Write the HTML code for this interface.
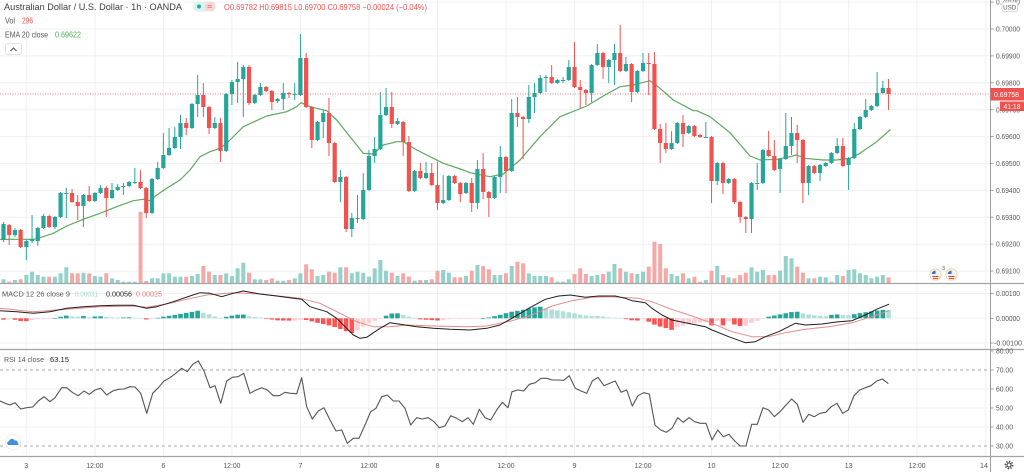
<!DOCTYPE html>
<html><head><meta charset="utf-8">
<style>
html,body{margin:0;padding:0;background:#fff;width:1024px;height:472px;overflow:hidden;}
svg{display:block;}
text{font-family:"Liberation Sans",Arial,sans-serif;}
</style></head>
<body>
<svg id="c" width="1024" height="472" viewBox="0 0 1024 472" xmlns="http://www.w3.org/2000/svg">
<rect width="1024" height="472" fill="#fff"/>
<g id="grid"></g>
<g id="vol"></g>
<g id="ema"></g>
<g id="candles"></g>
<line x1="0" y1="94" x2="990" y2="94" stroke="#ef5350" stroke-width="1" stroke-dasharray="1,1.5" opacity="0.75"/>
<g id="macd"></g>
<g id="rsi">
<line x1="0" y1="370" x2="990" y2="370" stroke="#a3a6ae" stroke-width="1" stroke-dasharray="3,3"/>
<line x1="0" y1="446" x2="990" y2="446" stroke="#b4a3a6" stroke-width="1" stroke-dasharray="3,3"/>
</g>

<!-- separators / axis -->
<line x1="0" y1="283.5" x2="1024" y2="283.5" stroke="#a4a4a4" stroke-width="1.2"/>
<line x1="0" y1="349.5" x2="1024" y2="349.5" stroke="#a4a4a4" stroke-width="1.2"/>
<line x1="0" y1="456.5" x2="1024" y2="456.5" stroke="#a4a4a4" stroke-width="1.2"/>
<line x1="990.5" y1="0" x2="990.5" y2="472" stroke="#9e9e9e" stroke-width="1"/>

<!-- header -->
<text x="4" y="10" font-size="9.5" fill="#3f3f3f" textLength="178" lengthAdjust="spacingAndGlyphs">Australian Dollar / U.S. Dollar · 1h · OANDA</text>
<rect x="193" y="1.5" width="23" height="10" rx="5" fill="#dcf2ef"/>
<circle cx="199" cy="6.5" r="2" fill="#26a69a"/>
<rect x="205" y="2" width="9.5" height="9" rx="2" fill="#fcd6d6"/>
<text x="209.7" y="9.6" font-size="9" fill="#ef5350" text-anchor="middle">≈</text>
<text x="224" y="10" font-size="8" fill="#ef5350" textLength="203" lengthAdjust="spacingAndGlyphs">O0.69782 H0.69815 L0.69700 C0.69758 −0.00024 (−0.04%)</text>
<text x="5" y="23.5" font-size="8" fill="#555" textLength="10" lengthAdjust="spacingAndGlyphs">Vol</text>
<text x="22" y="23.5" font-size="8" fill="#ef5350" textLength="11" lengthAdjust="spacingAndGlyphs">296</text>
<text x="5" y="37.5" font-size="8" fill="#555" textLength="43" lengthAdjust="spacingAndGlyphs">EMA 20 close</text>
<text x="55" y="37.5" font-size="8" fill="#4caf50" textLength="26" lengthAdjust="spacingAndGlyphs">0.69622</text>
<rect x="5.5" y="43.5" width="16" height="11" rx="2" fill="#fff" stroke="#e3e3e3"/>
<polyline points="10.5,51 13.5,48 16.5,51" fill="none" stroke="#555" stroke-width="1.1"/>

<!-- MACD legend -->
<text x="2" y="296.5" font-size="7.6" fill="#555" textLength="68" lengthAdjust="spacingAndGlyphs">MACD 12 26 close 9</text>
<text x="75" y="296.5" font-size="7.6" fill="#a3d7d1" textLength="23" lengthAdjust="spacingAndGlyphs">0.00031</text>
<text x="106" y="296.5" font-size="7.6" fill="#222" textLength="26" lengthAdjust="spacingAndGlyphs">0.00056</text>
<text x="136" y="296.5" font-size="7.6" fill="#e87b79" textLength="26" lengthAdjust="spacingAndGlyphs">0.00025</text>

<!-- RSI legend -->
<text x="4" y="362" font-size="7.6" fill="#555" textLength="40" lengthAdjust="spacingAndGlyphs">RSI 14 close</text>
<text x="50" y="362" font-size="7.6" fill="#222" textLength="19" lengthAdjust="spacingAndGlyphs">63.15</text>

<!-- cloud icon -->
<circle cx="13" cy="442" r="7.5" fill="#fff" stroke="#ececec"/>
<path d="M8.3,445 a2,2 0 0 1 0.8,-3.8 a2.9,2.9 0 0 1 5.5,-0.6 a2.3,2.3 0 0 1 3.1,2.4 a1,1 0 0 1 -0.4,2 z" fill="#3d8fd9"/>

<!-- event icons -->
<g>
<circle cx="935.5" cy="274.5" r="5.6" fill="#fff" stroke="#f3cfa6" stroke-width="1"/>
<circle cx="935.5" cy="274.5" r="4" fill="#eef1f7"/>
<path d="M931.6,274 a4,4 0 0 1 3.9,-3.5 v3.5 z" fill="#3b6fc7"/>
<rect x="932.5" y="276" width="6" height="1" fill="#e53935"/>
<rect x="933" y="278" width="5" height="0.9" fill="#e53935"/>
<text x="942" y="270" font-size="5.5" fill="#555">3</text>
<circle cx="951.5" cy="274.5" r="5.6" fill="#fff" stroke="#f3cfa6" stroke-width="1"/>
<circle cx="951.5" cy="274.5" r="4" fill="#eef1f7"/>
<path d="M947.6,274 a4,4 0 0 1 3.9,-3.5 v3.5 z" fill="#3b6fc7"/>
<rect x="948.5" y="276" width="6" height="1" fill="#e53935"/>
<rect x="949" y="278" width="5" height="0.9" fill="#e53935"/>
</g>

<g id="axis" font-size="7.2" fill="#555"></g>

<!-- price labels -->
<rect x="990.5" y="88" width="33.5" height="12.5" fill="#ef5350"/>
<text x="994" y="97" font-size="7.5" fill="#fff" textLength="25" lengthAdjust="spacingAndGlyphs">0.69758</text>
<rect x="1000" y="101.5" width="24" height="9.5" fill="#ef5350"/>
<text x="1003.5" y="109" font-size="7.2" fill="#fff" textLength="17" lengthAdjust="spacingAndGlyphs">41:18</text>
<rect x="1002" y="2" width="15.5" height="9.5" rx="2" fill="#fff" stroke="#cfcfcf" stroke-width="0.8"/>
<text x="1009.7" y="9.3" font-size="6.2" fill="#555" text-anchor="middle">USD</text>

<!-- gear -->
<circle cx="1009" cy="465" r="2" fill="none" stroke="#444" stroke-width="1.1"/>
<circle cx="1009" cy="465" r="3.6" fill="none" stroke="#444" stroke-width="1.6" stroke-dasharray="1.4,1.4"/>
</svg>
<script>
(function(){
var S="http://www.w3.org/2000/svg";
function E(p,t,a){var e=document.createElementNS(S,t);for(var k in a)e.setAttribute(k,a[k]);p.appendChild(e);return e;}
function g(id){return document.getElementById(id);}
function X(i){return 3.5+5.71*i;}
var D=[[240,224,222,242],[225,235,224,245],[235,230,228,237],[230,247,229,248],[247,241,240,260],[241,239,215,243],[241,228,227,246],[228,216,214,229],[216,227,215,228],[227,217,216,229],
[217,193,192,218],[193,193,188,218],[193,202,189,203],[202,206,195,220],[206,195,194,227],[195,201,186,202],[201,193,192,202],[193,188,185,194],[188,198,186,217],[198,190,183,199],
[190,187,184,191],[187,186,183,195],[186,182,181,187],[182,182,168,184],[182,188,170,189],[188,213,187,218],[213,179,178,214],[179,168,162,180],[168,155,133,169],[155,148,128,156],
[148,137,127,149],[137,123,115,149],[123,128,118,135],[128,104,103,129],[104,95,75,117],[95,107,83,117],[107,128,106,134],[128,123,117,129],[123,151,118,162],[151,94,93,152],
[94,82,80,105],[82,79,62,103],[79,67,65,117],[67,103,65,105],[103,95,94,104],[95,87,83,96],[87,91,86,92],[91,102,90,110],[101,99,98,103],[99,93,83,110],
[93,94,92,98],[94,94,83,100],[95,58,34,96],[58,107,53,108],[107,140,106,148],[140,122,121,141],[122,113,110,138],[113,143,98,156],[143,182,142,183],[182,177,170,202],
[177,229,176,232],[229,218,213,237],[218,218,195,223],[219,190,173,220],[190,156,150,191],[156,149,137,163],[149,115,92,150],[115,107,88,116],[107,124,92,128],[124,121,118,125],
[122,142,121,156],[142,191,136,192],[191,171,170,192],[171,178,163,179],[178,173,162,179],[173,185,163,186],[185,203,162,210],[203,200,175,204],[200,176,175,201],[176,183,175,184],
[183,194,182,202],[193,183,182,194],[183,203,178,212],[203,169,160,209],[169,192,153,199],[192,198,191,217],[198,177,176,199],[177,157,146,193],[157,171,156,193],[171,113,99,172],
[113,117,97,127],[117,119,116,159],[119,97,85,123],[97,93,83,113],[93,78,75,94],[78,77,75,92],[77,83,65,84],[83,80,79,84],[80,80,77,83],[80,67,60,81],
[67,87,42,88],[87,90,80,108],[90,93,89,105],[93,65,64,102],[65,53,44,66],[53,67,52,79],[67,60,59,83],[60,53,44,85],[53,71,25,72],[71,64,57,72],
[64,92,63,102],[92,71,70,93],[71,63,53,72],[63,64,53,95],[64,129,52,130],[129,143,124,163],[143,149,123,153],[149,143,131,150],[143,123,122,144],[123,134,115,147],
[133,126,125,134],[126,136,125,137],[135,137,134,138],[137,137,122,138],[137,181,136,203],[181,163,162,185],[163,183,162,194],[183,179,178,184],[179,202,178,204],[202,217,201,223],
[217,219,216,233],[219,183,182,233],[183,183,163,190],[183,150,149,184],[150,156,131,157],[156,170,140,171],[169,159,158,193],[159,146,113,160],[146,133,117,155],[133,140,125,163],
[140,183,139,203],[183,166,165,195],[166,173,165,174],[173,165,164,181],[166,163,162,167],[163,153,152,164],[153,146,138,154],[146,166,138,167],[165,158,157,190],[158,129,123,159],
[129,117,116,130],[117,110,99,118],[110,106,105,111],[106,93,72,107],[93,88,81,94],[88,94,79,110]];
var V=[279.3,281.7,280,279.3,275,271.7,275,276.7,276.7,276.7,
273.3,267.3,273.3,273.3,272.7,273.3,276,276.7,273.3,278.3,
280,281.7,281.7,281.7,211.7,281,278.3,278.3,273.3,273.3,
276.7,276.7,276.7,276,274,266,271.7,275,275,273.3,
276,268.3,262.7,272.7,279.3,279.3,280,278.3,280.7,280.7,
280,278.3,273.3,264.3,269.3,276,275,271.7,272.7,267.3,
267.3,273.3,271.7,272.7,276.7,268.3,260,270.7,272.7,276,
273.3,276.7,280.7,280,280,279.3,270.7,270,272.7,277.3,
277.3,276,270.7,265,266,269.3,275,275,273.3,266,
261.7,263.3,273.3,276,276,276,277.3,281.7,281.7,279.3,
274,268.3,274,276,275,274,271.7,264,268.3,271.7,
273.3,274,271.7,266.7,241.7,244,268.3,274,276,273.3,
278.3,276.7,281.7,280,270.7,266,275,277.3,278.3,275,
272.7,267.3,271.7,270,275,275,270.7,256,258.3,266.7,
272.7,278.3,278.3,276.7,277.3,281.7,275,276,270,269.3,
273.3,275,278.3,276.7,275,277.3];

// grid
var G=g('grid'),gc='#eef0f4',k,x,y;
for(k=0;k<15;k++){x=X(4+12*k).toFixed(1);E(G,'line',{x1:x,x2:x,y1:0,y2:456,stroke:gc,'stroke-width':1});}
for(k=-1;k<10;k++){y=(29+26.9*k).toFixed(1);E(G,'line',{x1:0,x2:990,y1:y,y2:y,stroke:gc,'stroke-width':1});}
[293.5,318.3,343].forEach(function(y){E(G,'line',{x1:0,x2:990,y1:y,y2:y,stroke:gc,'stroke-width':1});});
[389,408,427].forEach(function(y){E(G,'line',{x1:0,x2:990,y1:y,y2:y,stroke:gc,'stroke-width':1});});

// volume + candles
var VG=g('vol'),CG=g('candles');
D.forEach(function(d,i){
  var o=d[0],c=d[1],h=d[2],l=d[3],up=c<=o,xx=X(i);
  var v=V[i]||280;
  E(VG,'rect',{x:(xx-2).toFixed(2),y:v,width:4,height:(283-v).toFixed(1),fill:up?'#93d2cb':'#f6a8a6'});
  var col=up?'#26a69a':'#ef5350';
  E(CG,'line',{x1:xx.toFixed(2),x2:xx.toFixed(2),y1:h,y2:l,stroke:col,'stroke-width':1});
  var t=Math.min(o,c),b=Math.max(o,c);
  E(CG,'rect',{x:(xx-2.1).toFixed(2),y:t,width:4.2,height:Math.max(b-t,1),fill:col});
});

function pts(a,ox,oy){return a.map(function(p){return [ox+p[0]/3,oy+p[1]/3];});}
function interp(P,x){if(x<=P[0][0])return P[0][1];for(var j=1;j<P.length;j++){if(x<=P[j][0]){var a=P[j-1],b=P[j];return a[1]+(b[1]-a[1])*(x-a[0])/(b[0]-a[0]);}}return P[P.length-1][1];}
function poly(p,P,col,w){E(p,'polyline',{points:P.map(function(q){return q[0].toFixed(1)+','+q[1].toFixed(1);}).join(' '),fill:'none',stroke:col,'stroke-width':w,'stroke-linejoin':'round','stroke-linecap':'round'});}

// EMA
var EMA=pts([[0,628],[100,628],[115,625],[160,610],[200,588],[250,568],[300,550],[350,530],[400,512],[430,508],[450,512],[470,495],[500,475],[540,450],[570,420],[600,380],[630,365],[660,355],[680,340]],0,30)
.concat(pts([[0,330],[40,290],[110,258],[170,245],[200,230],[213,218],[240,230],[290,242],[320,270],[360,320],[400,370],[430,372],[460,345],[500,335],[520,335],[560,360],[640,400],[700,420]],230,30))
.concat(pts([[30,458],[90,470],[130,462],[180,420],[240,350],[300,290],[380,258],[430,228],[480,200],[520,195],[570,182],[600,205],[640,240],[700,272]],460,20))
.concat(pts([[20,152],[60,170],[120,218],[180,288],[210,300],[260,298],[300,290],[320,285],[345,295],[400,300],[440,300],[480,295],[510,280],[560,245],[600,210]],690,60));
poly(g('ema'),EMA,'#5ca95e',1.2);

// MACD
var MG=g('macd');
var H=pts([[0,119],[20,119],[40,118],[55,122],[70,124],[90,123],[100,118],[130,117],[160,116],[175,112],[190,108],[205,106],[220,110],[240,110],[250,108],[265,112],[280,110],[295,108],[310,110],[330,112],[360,113],[390,112],[420,114],[435,119],[450,117],[470,114],[490,110],[510,107],[530,104],[550,100],[570,97],[592,92],[605,97],[620,100],[640,108],[660,114],[680,110],[700,106],[720,103],[735,104],[750,110],[780,112],[800,116],[830,121],[860,122],[890,122],[910,118],[935,124],[950,128],[970,132],[990,137],[1010,143],[1030,150],[1050,158],[1060,160],[1075,150],[1090,140],[1110,128],[1130,120],[1150,112],[1165,103],[1185,98],[1200,102],[1220,108],[1240,113],[1260,118],[1290,120],[1320,122],[1340,118],[1380,116],[1420,116],[1460,114],[1490,107],[1510,102],[1530,96]],0,280)
.concat(pts([[0,95],[20,92],[40,88],[60,83],[85,80],[100,85],[130,90],[160,95],[190,100],[215,106],[240,108],[265,108],[290,112],[320,113],[345,118],[370,123],[395,117],[425,133],[445,140],[465,145],[480,150],[500,140],[530,133],[560,128],[590,124],[600,138],[615,122],[635,138],[650,124],[675,138],[700,138],[720,128],[750,118],[770,110],[790,106],[815,101],[840,96],[855,95],[880,102],[910,106],[940,109],[960,104],[985,103],[1000,108],[1020,104],[1040,100],[1060,97],[1085,93],[1110,90],[1125,88],[1135,92]],512,280));
var base=318.3,prev=0;
for(var i=0;i<D.length;i++){
  var xx=X(i),yv=interp(H,xx),v=base-yv,col;
  if(v>=0)col=(v>=prev)?'#26a69a':'#b2dfdb';else col=(v<prev)?'#ff5252':'#ffcdd2';
  var t=Math.min(base,yv),hh=Math.max(Math.abs(v),0.6);
  E(MG,'rect',{x:(xx-2.3).toFixed(2),y:t.toFixed(2),width:4.6,height:hh.toFixed(2),fill:col});
  prev=v;
}
var SIG=pts([[0,85],[100,95],[200,88],[300,80],[400,78],[440,82],[500,72],[560,58],[620,45],[700,38],[780,42],[900,55],[960,70],[1020,100],[1070,125],[1120,140],[1170,140],[1220,135],[1300,138],[1400,140],[1460,138],[1536,122]],0,280)
.concat(pts([[60,105],[120,78],[180,62],[240,52],[300,50],[380,55],[420,65],[470,85],[540,108],[600,130],[660,155],[720,170],[770,170],[820,158],[880,148],[950,140],[1020,128],[1080,110],[1130,92]],512,280));
var MAC=pts([[0,92],[50,95],[100,100],[150,95],[200,85],[250,80],[300,77],[350,76],[400,76],[440,85],[470,80],[520,65],[570,48],[600,38],[630,40],[665,50],[700,40],[730,33],[780,42],[830,48],[880,55],[905,58],[930,80],[980,95],[1010,115],[1040,145],[1060,165],[1080,175],[1100,172],[1140,145],[1170,128],[1200,133],[1250,140],[1300,145],[1350,148],[1410,150],[1460,145],[1500,135],[1536,115]],0,280)
.concat(pts([[50,85],[100,58],[140,48],[175,45],[220,52],[260,48],[310,48],[340,55],[360,62],[400,68],[420,85],[450,105],[480,120],[520,128],[580,140],[600,150],[650,170],[700,188],[730,185],[760,170],[800,155],[850,130],[880,135],[930,132],[980,125],[1020,122],[1060,105],[1100,85],[1130,73]],512,280));
poly(MG,SIG,'#e58b88',1);
poly(MG,MAC,'#1e1e1e',1);

// RSI
var R=pts([[0,168],[15,175],[30,180],[45,173],[62,192],[80,188],[98,186],[115,168],[132,155],[150,170],[165,158],[185,128],[200,128],[218,143],[235,152],[252,138],[268,148],[285,135],[302,130],[320,150],[338,138],[355,133],[372,132],[390,125],[405,126],[422,145],[440,205],[458,145],[475,128],[492,108],[510,98],[527,85],[545,70],[562,80],[578,58],[595,48],[612,78],[630,128],[645,122],[662,175],[680,108],[697,97],[714,95],[731,85],[750,145],[768,135],[785,128],[802,135],[820,152],[838,152],[855,142],[872,145],[890,146],[905,98],[920,185],[937,222],[955,198],[972,188],[990,225],[1008,258],[1025,255],[1042,295],[1060,280],[1077,280],[1095,240],[1112,200],[1128,190],[1145,155],[1162,150],[1180,168],[1197,168],[1215,190],[1232,240],[1250,218],[1267,222],[1285,218],[1302,230],[1318,248],[1335,243],[1352,212],[1370,220],[1387,230],[1404,218],[1420,238],[1438,193],[1455,218],[1472,225],[1490,195],[1507,172],[1524,188],[1536,140]],0,345)
.concat(pts([[18,135],[35,138],[52,118],[70,113],[87,100],[104,100],[121,105],[138,105],[155,106],[172,92],[190,130],[207,138],[224,145],[241,108],[258,97],[276,122],[293,115],[310,108],[327,142],[344,135],[361,183],[378,152],[395,143],[412,147],[429,240],[446,255],[463,262],[480,250],[497,218],[514,232],[531,218],[548,230],[565,235],[582,235],[600,285],[617,255],[634,275],[651,268],[668,288],[685,303],[702,303],[719,238],[736,238],[753,188],[770,195],[787,215],[804,200],[822,180],[839,162],[856,178],[873,232],[890,208],[907,215],[924,205],[941,202],[958,185],[975,175],[992,205],[1009,195],[1026,152],[1043,135],[1060,128],[1077,122],[1094,108],[1111,102],[1128,115]],512,345));
poly(g('rsi'),R,'#555',1.1);

// axis labels
var A=g('axis');
var pl=[["0.70100",2.1],["0.70000",29],["0.69900",55.9],["0.69800",82.8],["0.69700",109.7],["0.69600",136.5],["0.69500",163.4],["0.69400",190.3],["0.69300",217.2],["0.69200",244.1],["0.69100",271],
["0.00100",293.5],["0.00000",318.3]];
pl.forEach(function(p){
  E(A,'line',{x1:990.5,x2:993.5,y1:p[1],y2:p[1],stroke:'#888','stroke-width':0.8});
  var t=E(A,'text',{x:996,y:(p[1]+2.6).toFixed(1),textLength:24,lengthAdjust:'spacingAndGlyphs'});t.textContent=p[0];
});
E(A,'line',{x1:990.5,x2:993.5,y1:343,y2:343,stroke:'#888','stroke-width':0.8});
var t2=E(A,'text',{x:994,y:345.6,textLength:28,lengthAdjust:'spacingAndGlyphs'});t2.textContent="-0.00100";
[["80.00",351],["70.00",370],["60.00",389],["50.00",408],["40.00",427],["30.00",446]].forEach(function(p){
  E(A,'line',{x1:990.5,x2:993.5,y1:p[1],y2:p[1],stroke:'#888','stroke-width':0.8});
  var t=E(A,'text',{x:996,y:(p[1]+2.6).toFixed(1),textLength:17,lengthAdjust:'spacingAndGlyphs'});t.textContent=p[0];
});
var tl=["3","12:00","6","12:00","7","12:00","8","12:00","9","12:00","10","12:00","13","12:00","14"];
tl.forEach(function(s,k){
  var xx=X(4+12*k);if(k==14)xx=984;
  var a={x:xx.toFixed(1),y:468,'text-anchor':'middle'};
  if(s.length>3){a.textLength=17;a.lengthAdjust='spacingAndGlyphs';}
  var t=E(A,'text',a);t.textContent=s;
});
})();
</script>
</body></html>
